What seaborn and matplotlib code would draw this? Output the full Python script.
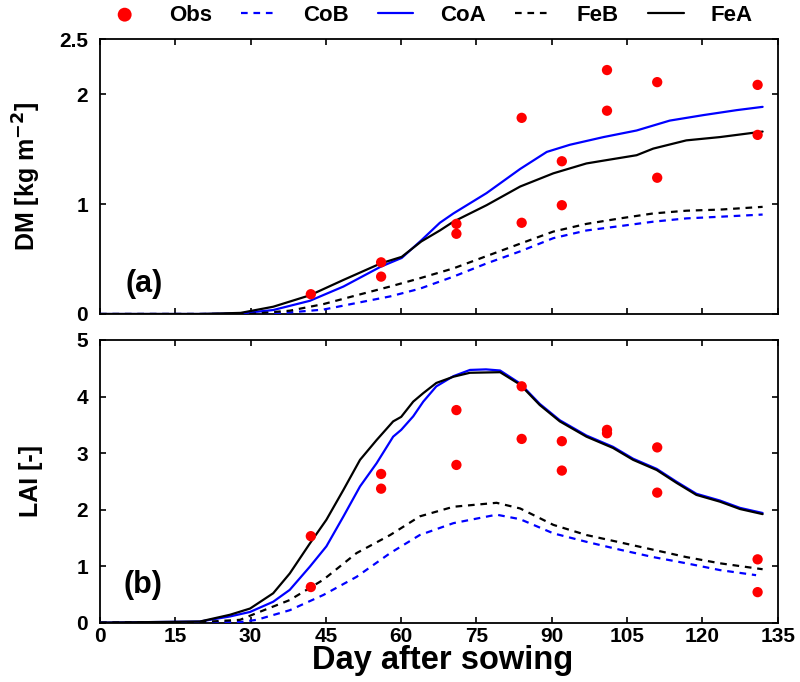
import matplotlib
matplotlib.use("Agg")
import matplotlib.pyplot as plt
import seaborn as sns

# ---- observed data ----
dm_obs_day = [42, 56, 56, 71, 71, 84, 84, 92, 92, 101, 101, 111, 111, 131, 131]
dm_obs = [0.18, 0.47, 0.34, 0.82, 0.73, 1.785, 0.83, 1.39, 0.99, 2.22, 1.85, 2.11, 1.24, 2.085, 1.63]

lai_obs_day = [42, 42, 56, 56, 71, 71, 84, 84, 92, 92, 101, 101, 111, 111, 131, 131]
lai_obs = [1.53, 0.63, 2.63, 2.37, 3.76, 2.79, 4.18, 3.25, 3.21, 2.69, 3.41, 3.35, 3.10, 2.30, 1.12, 0.54]

# ---- simulated dry matter (kg m-2) ----
dm_coa_day = [0, 20, 28, 34.5, 41.8, 48.5, 55.9, 60.1, 64.0, 67.7, 70.4, 77.0, 83.7, 89.0, 93.6,
              100.3, 106.9, 113.5, 120.2, 126.8, 132]
dm_coa = [0, 0, 0.005, 0.036, 0.12, 0.25, 0.43, 0.51, 0.67, 0.83, 0.915, 1.10, 1.32, 1.475, 1.54,
          1.61, 1.67, 1.76, 1.81, 1.855, 1.885]

dm_fea_day = [0, 20, 28, 34.5, 41.8, 48.5, 55.9, 60.1, 64.0, 67.7, 70.4, 77.0, 83.7, 90.3, 96.9,
              100.2, 106.9, 110.2, 116.8, 123.5, 132]
dm_fea = [0, 0, 0.01, 0.066, 0.17, 0.31, 0.46, 0.52, 0.66, 0.76, 0.84, 0.99, 1.16, 1.28, 1.37,
          1.395, 1.445, 1.505, 1.58, 1.61, 1.66]

dm_feb_day = [0, 30, 37.8, 44.5, 51.1, 57.8, 63.7, 70.4, 77.0, 83.7, 90.3, 96.9, 103.6, 110.2,
              116.8, 123.5, 132]
dm_feb = [0, 0, 0.03, 0.09, 0.17, 0.25, 0.325, 0.415, 0.527, 0.64, 0.75, 0.82, 0.87, 0.915,
          0.94, 0.95, 0.975]

dm_cob_day = [0, 34, 44.5, 51.1, 57.8, 63.7, 70.4, 77.0, 83.7, 90.3, 96.9, 103.6, 110.2, 116.8,
              123.5, 132]
dm_cob = [0, 0, 0.04, 0.10, 0.16, 0.23, 0.34, 0.46, 0.57, 0.69, 0.76, 0.80, 0.84, 0.87,
          0.885, 0.905]

# ---- simulated leaf area index ----
lai_fea_day = [0, 19.9, 25.9, 29.9, 34.5, 37.8, 41.8, 45.1, 48.5, 51.8, 55.1, 58.4, 60, 62.4,
               64.4, 67.0, 70.4, 73.7, 79.7, 83.7, 87.6, 91.6, 96.9, 102.2, 106.2, 110.9, 114.9,
               118.8, 123.5, 127.5, 132]
lai_fea = [0, 0.02, 0.14, 0.25, 0.52, 0.87, 1.40, 1.82, 2.35, 2.88, 3.23, 3.56, 3.64, 3.91,
           4.06, 4.24, 4.35, 4.42, 4.43, 4.21, 3.85, 3.56, 3.29, 3.09, 2.88, 2.70, 2.47,
           2.26, 2.14, 2.01, 1.92]

lai_coa_day = [0, 19.9, 25.9, 29.9, 34.5, 37.8, 41.8, 45.1, 48.5, 51.8, 55.1, 58.4, 60, 62.4,
               64.4, 67.0, 70.4, 73.7, 76.9, 79.7, 83.7, 87.6, 91.6, 96.9, 102.2, 106.2, 110.9,
               114.9, 118.8, 123.5, 127.5, 132]
lai_coa = [0, 0.02, 0.11, 0.19, 0.37, 0.58, 0.99, 1.35, 1.88, 2.41, 2.82, 3.29, 3.41, 3.65,
           3.91, 4.18, 4.36, 4.47, 4.48, 4.46, 4.23, 3.87, 3.58, 3.31, 3.11, 2.90, 2.72,
           2.49, 2.28, 2.16, 2.03, 1.94]

lai_feb_day = [0, 20, 27.9, 31.2, 37.8, 44.5, 51.1, 57.8, 63.7, 70.4, 79, 83.7, 90.3, 96.9,
               103.6, 110.2, 116.8, 123.5, 132]
lai_feb = [0, 0.01, 0.05, 0.17, 0.40, 0.76, 1.23, 1.55, 1.88, 2.05, 2.12, 2.02, 1.73, 1.55,
           1.42, 1.29, 1.16, 1.05, 0.945]

lai_cob_day = [0, 20, 27.9, 31.2, 37.8, 44.5, 51.1, 57.8, 63.7, 70.4, 79, 83.7, 90.3, 96.9,
               103.6, 110.2, 116.8, 123.5, 130.7]
lai_cob = [0, 0.005, 0.01, 0.05, 0.22, 0.49, 0.81, 1.23, 1.55, 1.76, 1.91, 1.83, 1.58, 1.43,
           1.29, 1.16, 1.05, 0.93, 0.84]

x_ticks = [0, 15, 30, 45, 60, 75, 90, 105, 120, 135]
dm_ticks = [0, 1, 2, 2.5]
dm_tick_labels = ["0", "1", "2", "2.5"]
lai_ticks = [0, 1, 2, 3, 4, 5]

# ---- style ----
sns.set_style("ticks")
plt.rcParams["font.family"] = ["Liberation Sans", "DejaVu Sans"]
plt.rcParams["font.weight"] = "bold"
plt.rcParams["axes.labelweight"] = "bold"
plt.rcParams["mathtext.default"] = "bf"
for key in ["text.color", "axes.labelcolor", "xtick.color", "ytick.color", "axes.edgecolor"]:
    plt.rcParams[key] = "black"

RED = "#ff0000"
BLUE = "#0000ff"
BLACK = "#000000"
LW = 1.6
DASH = (3, 2.6)

fig = plt.figure(figsize=(8, 6.82), dpi=100)
ax1 = fig.add_axes([0.125, 0.5396, 0.8471, 0.4028])
ax2 = fig.add_axes([0.125, 0.0870, 0.8471, 0.4145])


def draw_panel(ax, obs_x, obs_y, series):
    sns.scatterplot(x=obs_x, y=obs_y, ax=ax, color=RED, s=55, edgecolor="none",
                    label="Obs", zorder=4)
    for xs, ys, color, dashed, name in series:
        sns.lineplot(x=xs, y=ys, ax=ax, color=color, lw=LW, sort=False,
                     estimator=None, label=name, zorder=3)
        if dashed:
            ax.lines[-1].set_dashes(DASH)
    ax.set_xlim(0, 135)
    ax.set_xticks(x_ticks)
    ax.tick_params(direction="in", length=4.5, width=1.2, top=True, right=True,
                   labelsize=15, pad=8.5, colors="black")
    ax.tick_params(axis="x", pad=3)
    for sp in ax.spines.values():
        sp.set_linewidth(1.3)
        sp.set_color("black")
        sp.set_visible(True)


draw_panel(ax1, dm_obs_day, dm_obs, [
    (dm_cob_day, dm_cob, BLUE, True, "CoB"),
    (dm_coa_day, dm_coa, BLUE, False, "CoA"),
    (dm_feb_day, dm_feb, BLACK, True, "FeB"),
    (dm_fea_day, dm_fea, BLACK, False, "FeA"),
])
draw_panel(ax2, lai_obs_day, lai_obs, [
    (lai_cob_day, lai_cob, BLUE, True, "CoB"),
    (lai_coa_day, lai_coa, BLUE, False, "CoA"),
    (lai_feb_day, lai_feb, BLACK, True, "FeB"),
    (lai_fea_day, lai_fea, BLACK, False, "FeA"),
])

ax1.set_ylim(0, 2.5)
ax1.set_yticks(dm_ticks)
ax1.set_yticklabels(dm_tick_labels)
ax1.set_xticklabels([])
ax1.set_xlabel("")
ax1.set_ylabel(r"DM [kg m$^{-2}$]", fontsize=18, color="black")
ax1.yaxis.set_label_coords(-0.084, 0.5)

ax2.set_ylim(0, 5)
ax2.set_yticks(lai_ticks)
ax2.set_ylabel("LAI [-]", fontsize=18, color="black")
ax2.yaxis.set_label_coords(-0.084, 0.5)
ax2.set_xlabel("Day after sowing", fontsize=23.5, color="black")
ax2.xaxis.set_label_coords(0.505, -0.080)

ax1.text(0.037, 0.11, "(a)", transform=ax1.transAxes, fontsize=22,
         fontweight="bold", va="center", ha="left", color="black")
ax2.text(0.035, 0.133, "(b)", transform=ax2.transAxes, fontsize=22,
         fontweight="bold", va="center", ha="left", color="black")

handles, labels = ax1.get_legend_handles_labels()
ax1.get_legend().remove()
ax2.get_legend().remove()
leg = fig.legend(handles, labels, loc="center", bbox_to_anchor=(0.537, 0.978), ncol=5,
                 frameon=False, fontsize=16, handlelength=1.6, handletextpad=1.2,
                 columnspacing=1.3, markerscale=1.35)
for t in leg.get_texts():
    t.set_color("black")

fig.savefig("out.png", dpi=100)
